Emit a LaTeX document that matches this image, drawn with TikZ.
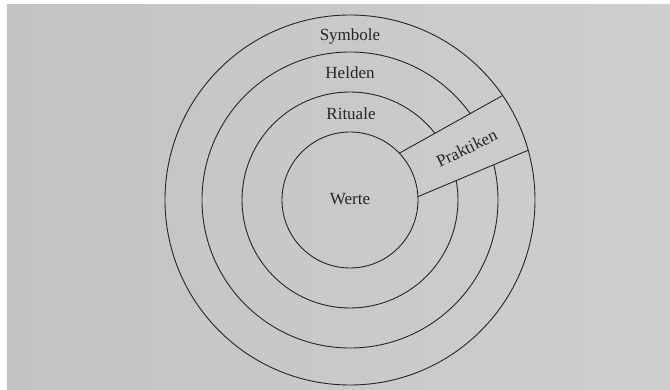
\documentclass[tikz,border=0pt]{standalone}
\usepackage{fontspec}
\setmainfont{Liberation Serif}
\definecolor{paperL}{HTML}{C3C3C3}
\definecolor{paperR}{HTML}{CFCFCF}
\definecolor{ink}{HTML}{262626}
\begin{document}
\begin{tikzpicture}[x=1pt,y=1pt,
  ring/.style={draw=ink,line width=0.9pt},
  lbl/.style={text=ink,font=\fontsize{17}{20}\selectfont,inner sep=0pt}]
\useasboundingbox (-350,-190) rectangle (320,200);
\fill[white] (-350,-190) rectangle (320,200);
\shade[left color=paperL,right color=paperR] (-343,-190) rectangle (320,195);
% complete circles
\draw[ring] (0,0) circle[radius=185];
\draw[ring] (0,0) circle[radius=68];
% middle circles, interrupted by the band
\begin{scope}[even odd rule]
  \clip (-350,-190) rectangle (320,200)
     (43.5:66) -- (34.4:190) -- (15.6:190) -- (2.8:66) -- cycle;
  \draw[ring] (0,0) circle[radius=148];
  \draw[ring] (0,0) circle[radius=108];
\end{scope}
% band edges
\coordinate (ui) at (43.5:68);
\coordinate (uo) at (34.4:185);
\coordinate (li) at (2.8:68);
\coordinate (lo) at (15.6:185);
\draw[ring] (ui) -- (uo);
\draw[ring] (li) -- (lo);
% labels
\node[lbl] (sym) at (0,163.3) {Symbole};
\node[lbl] (hel) at (0,127.3) {Helden};
\node[lbl] (rit) at (1,86.7) {Rituale};
\node[lbl] (wer) at (0,0.7) {Werte};
\node[lbl,rotate=26] (pra) at (116.7,51.7) {Praktiken};
\end{tikzpicture}
\end{document}
